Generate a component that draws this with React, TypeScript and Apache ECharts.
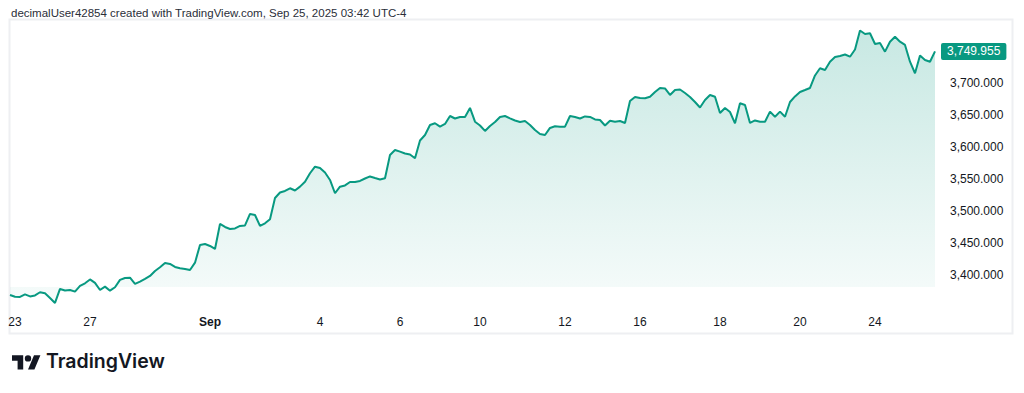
import React, { useEffect, useRef } from "react";
import * as echarts from "echarts";

const values: number[] = [
  3368.7, 3365.9, 3365.6, 3369.5, 3366.4, 3367.9, 3372.9, 3371.4, 3364.0, 3356.2,
  3378.1, 3375.7, 3376.5, 3373.9, 3382.8, 3387.0, 3393.0, 3387.5, 3376.5, 3381.7,
  3375.4, 3380.8, 3392.2, 3395.3, 3395.8, 3385.9, 3389.5, 3393.7, 3398.4, 3406.3,
  3412.1, 3418.8, 3417.2, 3412.5, 3410.5, 3409.4, 3407.8, 3419.2, 3447.0, 3448.5,
  3445.4, 3440.7, 3479.8, 3475.1, 3472.0, 3472.8, 3476.7, 3477.5, 3495.5, 3493.9,
  3476.7, 3480.9, 3487.2, 3520.5, 3529.1, 3531.5, 3535.7, 3532.2, 3538.2, 3546.0,
  3559.2, 3569.5, 3567.5, 3560.4, 3548.7, 3527.9, 3538.2, 3540.1, 3545.5, 3545.5,
  3547.1, 3551.0, 3554.2, 3551.8, 3549.5, 3551.3, 3587.8, 3595.6, 3593.0, 3590.1,
  3588.6, 3582.6, 3610.5, 3619.1, 3634.8, 3637.4, 3632.1, 3636.3, 3648.8, 3644.9,
  3647.3, 3647.3, 3661.4, 3639.9, 3634.0, 3625.4, 3633.2, 3639.4, 3647.3, 3648.8,
  3645.2, 3641.8, 3639.4, 3641.0, 3634.8, 3626.9, 3620.7, 3619.1, 3630.1, 3632.7,
  3632.1, 3632.1, 3648.8, 3647.3, 3644.9, 3648.1, 3647.3, 3643.4, 3642.6, 3634.0,
  3641.5, 3639.9, 3641.0, 3637.9, 3672.3, 3678.6, 3677.0, 3676.5, 3679.0, 3686.4,
  3692.7, 3691.9, 3681.7, 3689.5, 3690.3, 3684.8, 3678.6, 3670.7, 3662.1, 3673.9,
  3681.7, 3679.0, 3653.5, 3661.4, 3655.1, 3637.4, 3668.7, 3666.1, 3637.9, 3641.8,
  3639.9, 3639.9, 3655.6, 3647.7, 3655.6, 3647.7, 3670.7, 3679.4, 3686.4, 3689.5,
  3692.7, 3712.2, 3723.5, 3720.8, 3733.8, 3741.2, 3742.7, 3745.1, 3741.6, 3752.9,
  3782.6, 3777.2, 3778.3, 3761.5, 3763.1, 3749.5, 3765.1, 3772.9, 3765.1, 3760.0,
  3733.8, 3715.7, 3743.5, 3736.5, 3733.8, 3749.955,
];

const tickIndex: number[] = [1, 16, 40, 62, 78, 94, 111, 126, 142, 158, 173];
const tickLabels: string[] = ["23", "27", "Sep", "4", "6", "10", "12", "16", "18", "20", "24"];
const boldTicks: string[] = ["Sep"];
const yTicks: number[] = [3400, 3450, 3500, 3550, 3600, 3650, 3700];
const lastPrice = 3749.955;
const areaBase = 3381;
const headerText = "decimalUser42854 created with TradingView.com, Sep 25, 2025 03:42 UTC-4";
const brandText = "TradingView";

const categories = values.map((_, i) => String(i));

const TV_ICON = "M14 22H7V11H0V4h14v18zM28 22h-8l7.5-18h8L28 22zM24 8a4 4 0 1 1-8 0a4 4 0 1 1 8 0z";
echarts.graphic.registerShape("tvlogo", echarts.graphic.extendPath(TV_ICON, {}) as any);

const fmt = (v: number) =>
  v.toLocaleString("en-US", { minimumFractionDigits: 3, maximumFractionDigits: 3 });

const FONT = "'Liberation Sans', Arial, sans-serif";

export default function App() {
  const ref = useRef<HTMLDivElement>(null);
  useEffect(() => {
    if (!ref.current) return;
    const chart = echarts.init(ref.current, null, { renderer: "svg" });
    const green = "#089981";
    chart.setOption({
      animation: false,
      backgroundColor: "#ffffff",
      textStyle: { fontFamily: FONT },
      grid: { left: 10, right: 89, top: 19.4, bottom: 86.1, containLabel: false },
      xAxis: {
        type: "category",
        boundaryGap: false,
        data: categories,
        axisLine: { show: false },
        axisTick: { show: false },
        splitLine: { show: false },
        axisLabel: {
          interval: (i: number) => tickIndex.includes(i),
          formatter: (_v: string, i: number) => {
            const k = tickIndex.indexOf(i);
            if (k < 0) return "";
            const t = tickLabels[k];
            return boldTicks.includes(t) ? `{b|${t}}` : t;
          },
          color: "#131722",
          fontSize: 12,
          fontFamily: FONT,
          margin: 9,
          hideOverlap: false,
          rich: { b: { fontWeight: "bold", fontSize: 12, color: "#131722", fontFamily: FONT } },
        },
      },
      yAxis: {
        type: "value",
        position: "right",
        min: 3350,
        max: 3800,
        interval: 50,
        axisLine: { show: false },
        axisTick: { show: false },
        splitLine: { show: false },
        axisLabel: {
          formatter: (v: number) => (yTicks.includes(Math.round(v)) ? fmt(v) : ""),
          color: "#131722",
          fontSize: 12,
          fontFamily: FONT,
          margin: 15,
        },
      },
      series: [
        {
          type: "line",
          data: values,
          symbol: "none",
          lineStyle: { color: green, width: 2 },
          areaStyle: {
            origin: areaBase,
            color: new echarts.graphic.LinearGradient(0, 0, 0, 1, [
              { offset: 0, color: "rgba(8,153,129,0.32)" },
              { offset: 1, color: "rgba(8,153,129,0.05)" },
            ]),
          },
          markLine: {
            silent: true,
            symbol: "none",
            data: [{ yAxis: lastPrice }],
            lineStyle: { color: "rgba(0,0,0,0)", width: 0, type: "solid" },
            label: {
              show: true,
              position: "end",
              formatter: () => fmt(lastPrice),
              backgroundColor: green,
              color: "#ffffff",
              fontSize: 12,
              fontFamily: FONT,
              padding: [3, 6, 2, 6],
              borderRadius: 2,
              distance: 6,
            },
          },
        },
      ],
      graphic: [
        {
          type: "rect",
          shape: { x: 9.5, y: 19.5, width: 1003, height: 314 },
          style: { fill: "none", stroke: "#eeeff2", lineWidth: 2 },
          silent: true,
          z: -1,
        },
        {
          type: "text",
          x: 11,
          y: 7,
          style: {
            text: headerText,
            fill: "#2a2e39",
            fontSize: 11.5,
            fontFamily: FONT,
          },
        },
        {
          type: "tvlogo",
          x: 12,
          y: 352,
          scaleX: 0.8,
          scaleY: 0.8,
          style: { fill: "#131722" },
        },
        {
          type: "text",
          x: 46,
          y: 351,
          style: {
            text: brandText,
            fill: "#131722",
            fontSize: 19.5,
            fontWeight: 600,
            fontFamily: "Inter, sans-serif",
          },
        },
      ],
    });
    return () => chart.dispose();
  }, []);
  return (
    <div
      ref={ref}
      style={{ position: "fixed", left: 0, top: 0, width: 1024, height: 393, background: "#fff" }}
    />
  );
}
